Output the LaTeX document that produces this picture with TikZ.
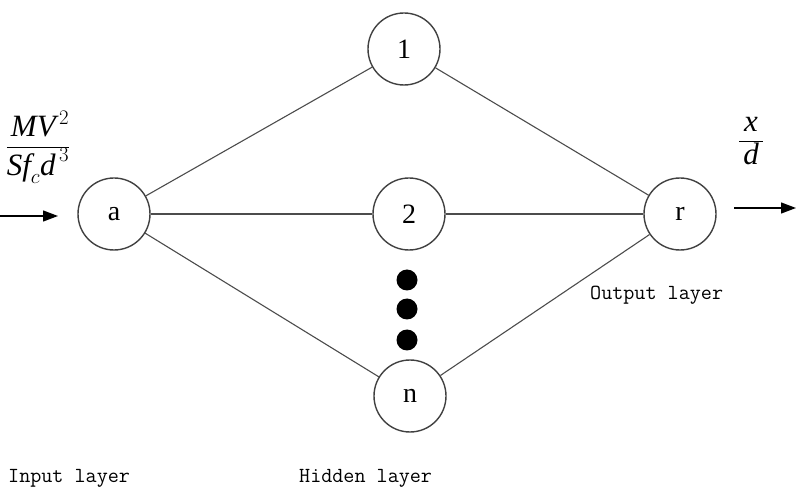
\documentclass[tikz,border=0pt]{standalone}
\usepackage{fontspec}
\setmainfont{Liberation Serif}
\usetikzlibrary{arrows.meta}
\begin{document}
\begin{tikzpicture}[x=1pt,y=-1pt,
  neuron/.style={circle,draw=black!75,line width=1.4pt,minimum size=72pt,inner sep=0pt,
    font=\fontsize{28}{28}\selectfont},
  edge/.style={draw=black!70,line width=1.1pt},
  dotn/.style={circle,fill=black,minimum size=21pt,inner sep=0pt},
  lbl/.style={font=\ttfamily\fontsize{21.5}{21.5}\selectfont,text=black,anchor=base west,inner sep=0pt},
  arr/.style={draw=black,line width=1.3pt,-{Triangle[length=15pt,width=11pt]}}]
\useasboundingbox (0,0) rectangle (796,497);
\node[neuron] (a) at (114,214) {a};
\node[neuron] (h1) at (404,49) {1};
\node[neuron] (h2) at (409,214) {2};
\node[neuron] (hn) at (410,396) {n};
\node[neuron] (r) at (680,214) {r};
\node[dotn] (d1) at (407,280) {};
\node[dotn] (d2) at (407,309) {};
\node[dotn] (d3) at (407,340) {};
\foreach \h in {h1,h2,hn}{
  \draw[edge] (a) -- (\h);
  \draw[edge] (\h) -- (r);
}
\coordinate (inS) at (0,216);
\coordinate (inE) at (58,216);
\draw[arr] (inS) -- (inE);
\coordinate (outS) at (734,208);
\coordinate (outE) at (796,208);
\draw[arr] (outS) -- (outE);
\node[font=\fontsize{31}{31}\selectfont] (fin) at (38,147) {$\displaystyle\frac{\,\textit{MV}^{\,2}}{\textit{Sf}_{c}\textit{d}^{\,3}}$};
\node[font=\fontsize{31}{31}\selectfont] (fout) at (751,141) {$\displaystyle\frac{\,\textit{x}\,}{\,\textit{d}\,}$};
\node[lbl] (lin) at (8,482) {Input layer};
\node[lbl] (lhid) at (299,482) {Hidden layer};
\node[lbl] (lout) at (590,300) {Output layer};
\end{tikzpicture}
\end{document}
